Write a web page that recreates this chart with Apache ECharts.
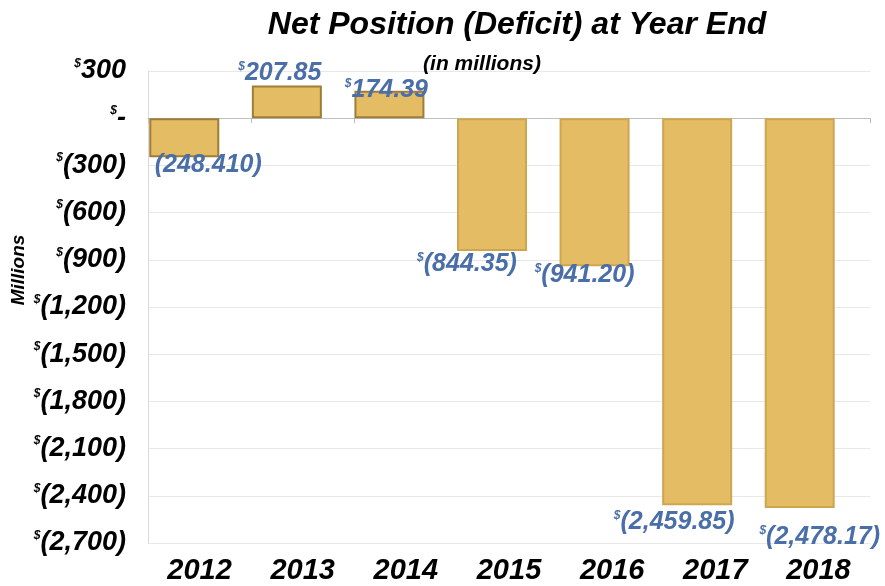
<!DOCTYPE html>
<html>
<head>
<meta charset="utf-8">
<script src="https://cdn.jsdelivr.net/npm/echarts@6/dist/echarts.min.js"></script>
<style>
  html, body { margin: 0; padding: 0; background: #fff; }
  #chart { width: 885px; height: 586px; }
</style>
</head>
<body>
<div id="chart"></div>
<script>
const years = ['2012', '2013', '2014', '2015', '2016', '2017', '2018']
const netPosition = [-248.41, 207.85, 174.39, -844.35, -941.2, -2459.85, -2478.17]
// labels as printed on the chart
const labelTexts = ['(248.410)', '$207.85', '$174.39', '$(844.35)', '$(941.20)', '$(2,459.85)', '$(2,478.17)']
const yMin = -2700
const yMax = 300
const yStep = 300

// label nudges (px), like the hand-placed labels in the original
const labelShift = [[24, -10], [-7, 5], [-3, 17], [-25, -4], [-10, -9], [-23, -1], [20, 12]]

const hand = '"Liberation Sans", "DejaVu Sans", sans-serif'
const blue = '#4A6EA8'

function withCommas(n) {
  return String(n).replace(/\B(?=(\d{3})+(?!\d))/g, ',')
}

// $300 / $- / $(300)
function axisFmt(v) {
  if (v === 0) return '{s|$}{v|-}'
  const s = withCommas(Math.abs(v))
  return v > 0 ? '{s|$}{v|' + s + '}' : '{s|$}{v|(' + s + ')}'
}

function labelFmt(p) {
  const t = labelTexts[p.dataIndex]
  return t.charAt(0) === '$' ? '{s|$}{v|' + t.slice(1) + '}' : '{v|' + t + '}'
}

const chart = echarts.init(document.getElementById('chart'), null, { renderer: 'canvas' })

const option = {
  animation: false,
  backgroundColor: '#fff',
  title: [
    {
      text: 'Net Position (Deficit) at Year End',
      left: 512,
      top: 4,
      textAlign: 'center',
      textStyle: { fontFamily: hand, fontStyle: 'italic', fontWeight: 'bold', fontSize: 32, color: '#000' },
    },
    {
      text: '(in millions)',
      left: 477,
      top: 49,
      textAlign: 'center',
      textStyle: { fontFamily: hand, fontStyle: 'italic', fontWeight: 'bold', fontSize: 21, color: '#000' },
    },
  ],
  graphic: [
    {
      type: 'text',
      x: 19,
      y: 270,
      rotation: Math.PI / 2,
      style: {
        text: 'Millions',
        fontFamily: hand,
        fontStyle: 'italic',
        fontWeight: 'bold',
        fontSize: 19,
        fill: '#000',
        align: 'center',
        verticalAlign: 'middle',
      },
    },
  ],
  grid: [
    // axes / gridlines
    { left: 148, right: 15, top: 71, bottom: 43 },
    // bars sit a little left of the category centres in the original
    { left: 133, right: 34, top: 71, bottom: 43 },
  ],
  xAxis: [
    {
      gridIndex: 0,
      type: 'category',
      data: years,
      position: 'bottom',
      axisLine: { show: false, onZero: false },
      axisTick: { show: false },
      axisLabel: {
        margin: 13,
        fontFamily: hand,
        fontStyle: 'italic',
        fontWeight: 'bold',
        fontSize: 29,
        color: '#000',
      },
    },
    {
      gridIndex: 0,
      type: 'category',
      data: years,
      position: 'top',
      axisLine: { show: true, onZero: true, lineStyle: { color: '#BFBFBF', width: 1 } },
      axisTick: { show: true, inside: true, length: 5, lineStyle: { color: '#BFBFBF' } },
      axisLabel: { show: false },
    },
    {
      gridIndex: 1,
      type: 'category',
      data: years,
      show: false,
    },
  ],
  yAxis: [
    {
      gridIndex: 0,
      type: 'value',
      min: yMin,
      max: yMax,
      interval: yStep,
      axisLine: { show: true, lineStyle: { color: '#D9D9D9' } },
      axisTick: { show: false },
      splitLine: { show: true, lineStyle: { color: '#E8E8E8', width: 1 } },
      axisLabel: {
        margin: 22,
        formatter: axisFmt,
        rich: {
          s: { fontFamily: hand, fontStyle: 'italic', fontWeight: 'bold', fontSize: 12, color: '#000', verticalAlign: 'top', padding: [0, 0, 11, 0] },
          v: { fontFamily: hand, fontStyle: 'italic', fontWeight: 'bold', fontSize: 27, color: '#000' },
        },
      },
    },
    {
      gridIndex: 1,
      type: 'value',
      min: yMin,
      max: yMax,
      interval: yStep,
      show: false,
      splitLine: { show: false },
    },
  ],
  series: [
    {
      name: 'Net Position',
      type: 'bar',
      xAxisIndex: 2,
      yAxisIndex: 1,
      barWidth: 70,
      data: netPosition.map((v, i) => ({
        value: v,
        itemStyle: {
          color: '#E4BC64',
          borderColor: i < 3 ? '#9E7C3A' : '#CFA650',
          borderWidth: 2,
        },
        label: {
          position: v >= 0 ? 'top' : 'bottom',
          offset: labelShift[i],
        },
      })),
      label: {
        show: true,
        distance: 5,
        formatter: labelFmt,
        rich: {
          s: { fontFamily: hand, fontStyle: 'italic', fontWeight: 'bold', fontSize: 12, color: blue, verticalAlign: 'top', padding: [0, 0, 11, 0] },
          v: { fontFamily: hand, fontStyle: 'italic', fontWeight: 'bold', fontSize: 25, color: blue },
        },
      },
    },
  ],
}

chart.setOption(option)
window.addEventListener('resize', () => chart.resize())
</script>
</body>
</html>
